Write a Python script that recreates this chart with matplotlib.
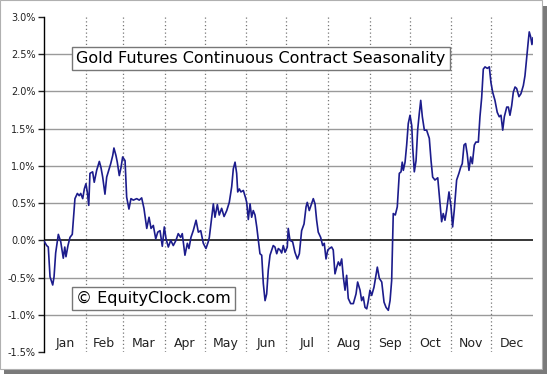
import matplotlib
matplotlib.use("Agg")
import matplotlib.pyplot as plt
from matplotlib.patches import Rectangle

# Seasonal profile: day of year vs. average % change
days = [0.0, 2.0, 3.2, 4.5, 6.5, 7.5, 8.7, 10.7, 12.5, 14.4, 15.5, 16.4, 17.9, 19.4, 21.1,
        23.1, 24.9, 26.3, 27.4, 28.9, 30.1, 31.3, 32.3, 33.4, 34.3, 36.3, 37.5, 39.3, 41.3,
        42.5, 43.8, 45.5, 46.8, 48.0, 49.8, 51.3, 52.2, 53.7, 54.7, 56.2, 57.5, 58.7, 60.5,
        61.7, 63.4, 64.9, 66.7, 69.2, 71.1, 72.9, 74.6, 76.7, 78.4, 79.9, 81.6, 83.4, 84.9,
        86.6, 88.3, 89.8, 91.1, 92.8, 94.6, 96.5, 98.5, 100.2, 102.0, 103.2, 105.2, 107.0,
        108.2, 109.7, 111.4, 113.5, 115.2, 117.0, 118.9, 120.9, 122.6, 123.4, 125.2, 126.4,
        127.6, 129.4, 130.8, 132.6, 134.4, 136.4, 138.3, 140.1, 141.3, 142.6, 143.8, 144.6,
        145.8, 147.0, 148.8, 150.3, 151.3, 152.5, 153.8, 155.0, 156.2, 157.5, 158.8, 160.0,
        161.2, 162.5, 163.7, 165.0, 166.2, 167.4, 168.7, 170.0, 171.1, 172.4, 173.7, 174.9,
        176.2, 177.4, 178.6, 179.9, 181.6, 182.3, 183.6, 185.6, 187.3, 189.1, 190.6, 192.3,
        194.1, 195.6, 196.5, 198.0, 199.3, 201.0, 202.3, 203.5, 204.7, 206.5, 208.0, 209.2,
        210.5, 211.8, 213.0, 214.7, 215.9, 217.2, 218.5, 219.7, 220.9, 222.2, 223.4, 224.7,
        225.9, 227.1, 228.9, 230.9, 232.9, 234.1, 235.9, 237.1, 238.3, 239.6, 240.9, 242.1,
        243.3, 244.6, 246.3, 248.8, 250.3, 252.1, 253.8, 255.3, 257.0, 258.3, 259.5, 260.7,
        262.2, 263.7, 265.2, 266.5, 267.4, 268.2, 269.5, 270.7, 271.9, 273.2, 274.5, 275.2,
        276.4, 277.7, 278.9, 280.1, 281.2, 282.4, 283.9, 285.6, 287.6, 288.9, 290.1, 291.8,
        293.9, 295.6, 296.8, 298.0, 299.3, 300.5, 302.3, 303.8, 305.0, 306.2, 308.0, 309.7,
        311.0, 312.2, 313.5, 314.7, 315.9, 317.2, 318.5, 319.7, 321.2, 322.4, 324.2, 325.4,
        326.7, 327.9, 329.2, 330.9, 332.4, 333.6, 334.9, 336.6, 338.3, 339.8, 341.1, 342.4,
        343.6, 345.4, 346.6, 347.8, 349.1, 350.3, 351.6, 352.8, 354.5, 356.0, 357.8, 359.0,
        360.3, 361.5, 362.2, 363.3, 364.2, 365.0]
seasonal_pct = [-0.01, -0.07, -0.09, -0.49, -0.60, -0.49, -0.17, 0.08, -0.02, -0.24, -0.09,
                -0.22, -0.07, 0.04, 0.08, 0.56, 0.63, 0.60, 0.63, 0.56, 0.69, 0.76, 0.65, 0.47,
                0.90, 0.92, 0.78, 0.94, 1.06, 0.98, 0.85, 0.62, 0.85, 0.92, 1.03, 1.14, 1.24,
                1.14, 1.05, 0.87, 0.98, 1.12, 1.07, 0.58, 0.42, 0.56, 0.54, 0.56, 0.54, 0.57,
                0.43, 0.16, 0.31, 0.16, 0.20, 0.02, 0.11, 0.13, -0.08, 0.18, 0.02, -0.09, 0.00,
                -0.07, 0.00, 0.09, 0.04, 0.09, -0.20, -0.04, -0.11, 0.04, 0.13, 0.27, 0.11, 0.13,
                -0.04, -0.11, -0.02, 0.04, 0.31, 0.49, 0.31, 0.48, 0.34, 0.43, 0.32, 0.40, 0.51,
                0.72, 0.96, 1.05, 0.90, 0.65, 0.69, 0.65, 0.67, 0.58, 0.51, 0.28, 0.49, 0.31,
                0.40, 0.34, 0.18, 0.00, -0.18, -0.20, -0.58, -0.81, -0.72, -0.40, -0.20, -0.13,
                -0.07, -0.09, -0.18, -0.11, -0.13, -0.17, -0.07, -0.16, -0.09, 0.16, 0.00, -0.02,
                -0.16, -0.25, -0.18, 0.13, 0.22, 0.45, 0.51, 0.40, 0.47, 0.56, 0.49, 0.27, 0.11,
                0.04, -0.07, -0.04, -0.25, -0.13, -0.11, -0.09, -0.13, -0.45, -0.36, -0.29, -0.34,
                -0.25, -0.49, -0.67, -0.47, -0.78, -0.85, -0.85, -0.72, -0.56, -0.67, -0.81,
                -0.76, -0.90, -0.92, -0.81, -0.67, -0.74, -0.63, -0.36, -0.51, -0.56, -0.83,
                -0.90, -0.94, -0.81, -0.54, 0.36, 0.34, 0.45, 0.90, 0.92, 1.05, 0.94, 1.05, 1.28,
                1.57, 1.68, 1.54, 1.25, 0.92, 1.07, 1.48, 1.70, 1.88, 1.66, 1.48, 1.48, 1.37,
                1.07, 0.85, 0.81, 0.84, 0.49, 0.25, 0.36, 0.27, 0.40, 0.65, 0.45, 0.18, 0.40,
                0.81, 0.90, 0.98, 1.03, 1.28, 1.30, 1.16, 0.94, 1.12, 1.03, 1.28, 1.32, 1.32,
                1.66, 1.92, 2.30, 2.33, 2.31, 2.33, 2.12, 1.99, 1.88, 1.72, 1.66, 1.68, 1.48,
                1.66, 1.79, 1.79, 1.68, 1.81, 1.99, 2.06, 2.04, 1.93, 1.97, 2.08, 2.21, 2.46,
                2.68, 2.80, 2.73, 2.63, 2.72]

months = ['Jan', 'Feb', 'Mar', 'Apr', 'May', 'Jun', 'Jul', 'Aug', 'Sep', 'Oct', 'Nov', 'Dec']
month_days = [31, 28, 31, 30, 31, 30, 31, 31, 30, 31, 30, 31]
y_ticks = [-1.5, -1.0, -0.5, 0.0, 0.5, 1.0, 1.5, 2.0, 2.5, 3.0]
title = 'Gold Futures Continuous Contract Seasonality'
watermark = '\u00a9 EquityClock.com'

fig = plt.figure(figsize=(5.47, 3.74), dpi=100)
fig.patch.set_facecolor('white')

# outer frame with drop shadow
fig.patches.append(Rectangle((4 / 547, 0), 543 / 547, 368 / 374, transform=fig.transFigure,
                             facecolor='#7a7a7a', edgecolor='none', zorder=0))
fig.patches.append(Rectangle((0, 5 / 374), 542 / 547, 369 / 374, transform=fig.transFigure,
                             facecolor='white', edgecolor='#b0b0b0', linewidth=0.8, zorder=1))

ax = fig.add_axes([44 / 547, 22 / 374, 489 / 547, 335 / 374])
ax.set_facecolor('none')
ax.set_zorder(2)

ax.set_xlim(0, 365)
ax.set_ylim(-1.5, 3.0)

# horizontal grid
for v in y_ticks[1:-1]:
    if v == 0:
        ax.axhline(0, color='black', linewidth=1.1, zorder=2)
    else:
        ax.axhline(v, color='#9a9a9a', linewidth=1.0, zorder=1)

# month boundaries and labels
edge = 0
for name, n in zip(months, month_days):
    mid = edge + n / 2
    edge += n
    if edge < 365:
        ax.axvline(edge, color='#777777', linewidth=0.9, linestyle=(0, (1, 2)), zorder=1)
    ax.text(mid, -1.39, name, ha='center', va='center', fontsize=9, color='#222222')

ax.plot(days, seasonal_pct, color='#1c1c8c', linewidth=1.2, zorder=3)

ax.set_yticks(y_ticks)
ax.set_yticklabels(['%.1f%%' % v for v in y_ticks])
ax.set_xticks([])
ax.tick_params(axis='y', length=4, width=1, labelsize=7, colors='#222222', pad=2)
for side in ['top', 'right', 'bottom']:
    ax.spines[side].set_visible(False)
ax.spines['left'].set_linewidth(1.0)

box = dict(boxstyle='square,pad=0.25', facecolor='white', edgecolor='#777777', linewidth=1.0)
ax.text(0.066, 0.877, title, transform=ax.transAxes, ha='left', va='center',
        fontsize=11.5, color='black', bbox=box, zorder=4)
ax.text(0.066, 0.161, watermark, transform=ax.transAxes, ha='left', va='center',
        fontsize=11.5, color='black', bbox=box, zorder=4)

fig.savefig('out.png', dpi=100)
